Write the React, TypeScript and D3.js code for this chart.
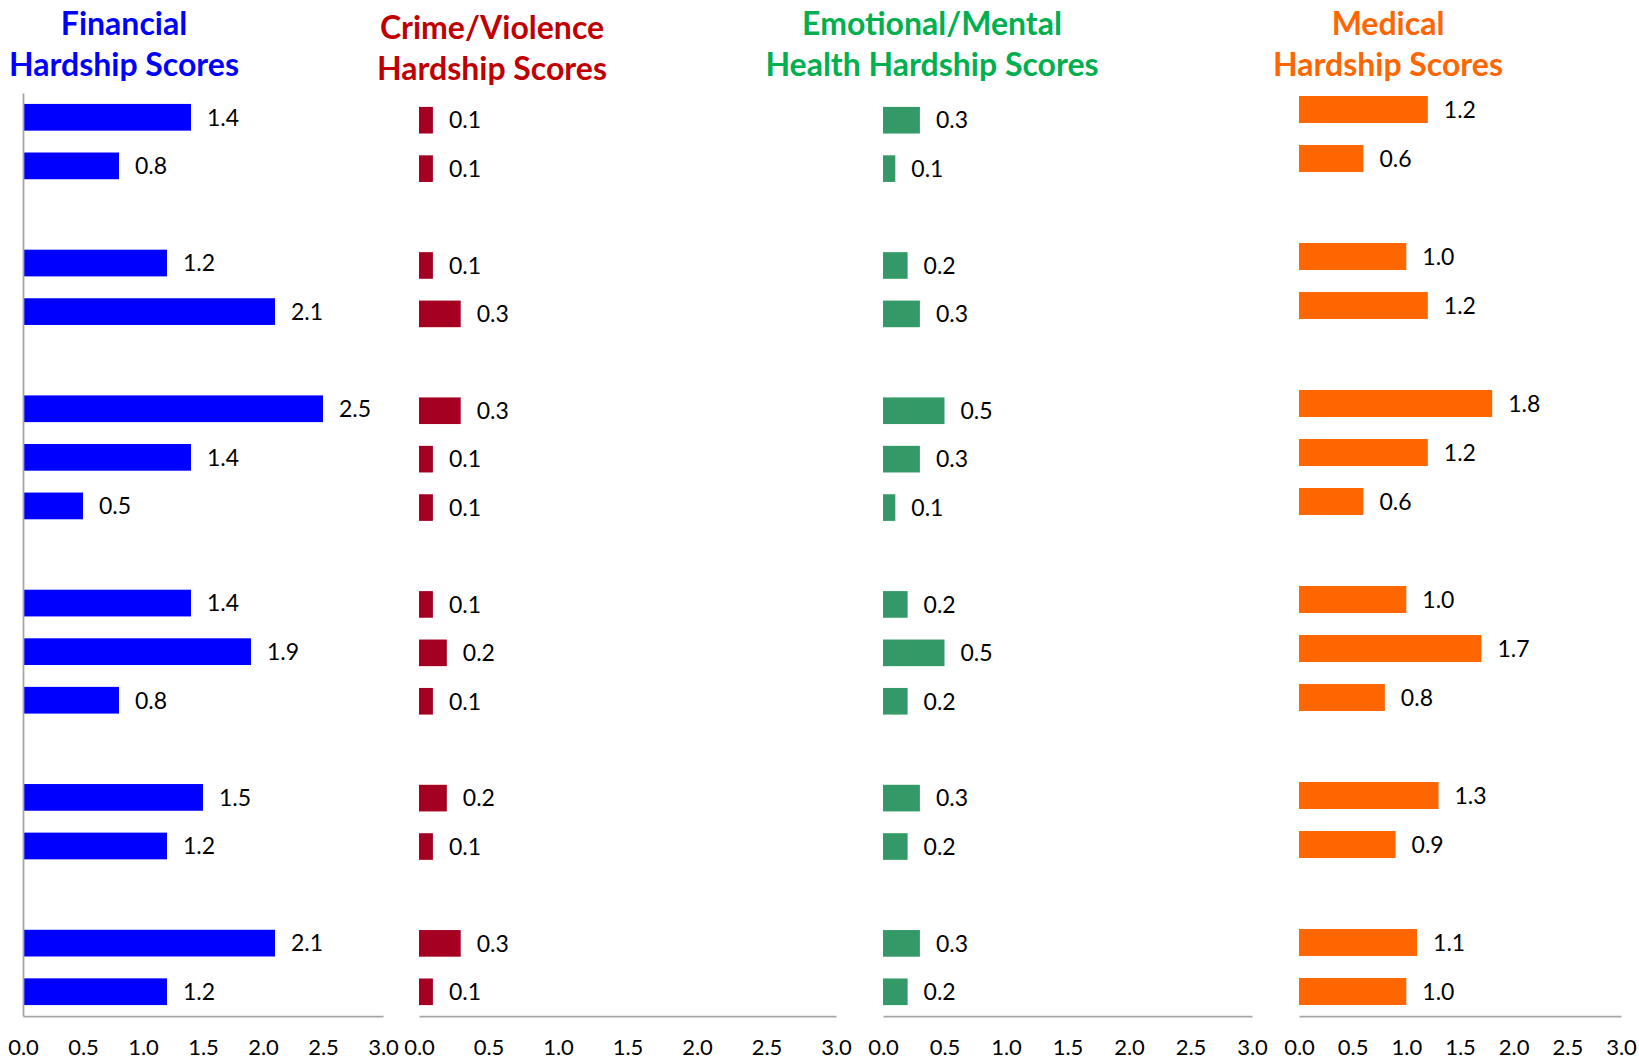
import React, { useRef, useEffect } from "react";
import * as d3 from "d3";

// rows come in groups, with one empty slot between groups
const groupSizes = [2, 2, 3, 3, 2, 2];

const financial = [1.4, 0.8, 1.2, 2.1, 2.5, 1.4, 0.5, 1.4, 1.9, 0.8, 1.5, 1.2, 2.1, 1.2];
const crime = [0.1, 0.1, 0.1, 0.3, 0.3, 0.1, 0.1, 0.1, 0.2, 0.1, 0.2, 0.1, 0.3, 0.1];
const emotional = [0.3, 0.1, 0.2, 0.3, 0.5, 0.3, 0.1, 0.2, 0.5, 0.2, 0.3, 0.2, 0.3, 0.2];
const medical = [1.2, 0.6, 1.0, 1.2, 1.8, 1.2, 0.6, 1.0, 1.7, 0.8, 1.3, 0.9, 1.1, 1.0];

const xTicks = [0, 0.5, 1, 1.5, 2, 2.5, 3];

const titles = [
  ["Financial", "Hardship Scores"],
  ["Crime/Violence", "Hardship Scores"],
  ["Emotional/Mental", "Health Hardship Scores"],
  ["Medical", "Hardship Scores"],
];

const W = 1639;
const H = 1059;
const FONT = "Lato, 'Open Sans', sans-serif";

// build slot keys: real rows + gap slots
const slots: string[] = [];
const rowKeys: string[] = [];
groupSizes.forEach((n, g) => {
  if (g > 0) slots.push(`gap${g}`);
  for (let i = 0; i < n; i++) {
    const k = `g${g}r${i}`;
    slots.push(k);
    rowKeys.push(k);
  }
});

const panels = [
  { values: financial, title: titles[0], bar: "#0000FF", titleColor: "#0000FF", x0: 23, x1: 383, top: 93, tx: 124, ty: 35, yAxis: true },
  { values: crime, title: titles[1], bar: "#A50021", titleColor: "#C00000", x0: 419, x1: 836, top: 96, tx: 492, ty: 39, yAxis: false },
  { values: emotional, title: titles[2], bar: "#339966", titleColor: "#00B050", x0: 883, x1: 1252, top: 96, tx: 932, ty: 35, yAxis: false },
  { values: medical, title: titles[3], bar: "#FF6600", titleColor: "#FF6600", x0: 1299, x1: 1621, top: 85, tx: 1388, ty: 35, yAxis: false },
];

const bottom = 1016;
const axisColor = "#A6A6A6";

export default function App() {
  const svgRef = useRef<SVGSVGElement>(null);

  useEffect(() => {
    const svg = d3.select(svgRef.current);
    svg.selectAll("*").remove();
    const fmt = d3.format(".1f");

    panels.forEach((p) => {
      const x = d3.scaleLinear().domain([0, 3]).range([p.x0, p.x1]);
      const y = d3
        .scaleBand()
        .domain(slots)
        .range([p.top, bottom])
        .paddingInner(0.45)
        .paddingOuter(0.225);

      const g = svg.append("g");

      // title
      const t = g
        .append("text")
        .attr("text-anchor", "middle")
        .attr("fill", p.titleColor)
        .style("font-family", FONT)
        .style("font-weight", 700)
        .style("font-size", "32px");
      p.title.forEach((line, i) => {
        t.append("tspan")
          .attr("x", p.tx)
          .attr("y", p.ty + i * 41)
          .text(line);
      });

      // bars
      g.selectAll(".bar")
        .data(p.values)
        .enter()
        .append("rect")
        .attr("x", x(0))
        .attr("y", (d, i) => y(rowKeys[i])!)
        .attr("width", (d) => x(d) - x(0))
        .attr("height", y.bandwidth())
        .attr("fill", p.bar);

      // value labels
      g.selectAll(".lbl")
        .data(p.values)
        .enter()
        .append("text")
        .attr("x", (d) => x(d) + 16)
        .attr("y", (d, i) => y(rowKeys[i])! + y.bandwidth() / 2)
        .attr("dy", "0.36em")
        .attr("fill", "#000")
        .style("font-family", FONT)
        .style("font-size", "23px")
        .text((d) => fmt(d));

      // bottom axis
      const ax = g
        .append("g")
        .attr("transform", `translate(0,${bottom})`)
        .call(
          d3
            .axisBottom(x)
            .tickValues(xTicks)
            .tickSize(0)
            .tickPadding(23)
            .tickFormat((d) => fmt(d as number))
        );
      ax.select(".domain").attr("stroke", axisColor).attr("stroke-width", 1.75);
      ax.selectAll("text")
        .attr("fill", "#000")
        .style("font-family", FONT)
        .style("font-size", "22px");

      if (p.yAxis) {
        const ay = g
          .append("g")
          .attr("transform", `translate(${p.x0},0)`)
          .call(d3.axisLeft(y).tickSize(0).tickFormat(() => ""));
        ay.select(".domain").attr("stroke", axisColor).attr("stroke-width", 1.75);
      }
    });
  }, []);

  return (
    <div style={{ position: "absolute", left: 0, top: 0, width: W, height: H, background: "#fff" }}>
      <svg ref={svgRef} width={W} height={H} />
    </div>
  );
}
